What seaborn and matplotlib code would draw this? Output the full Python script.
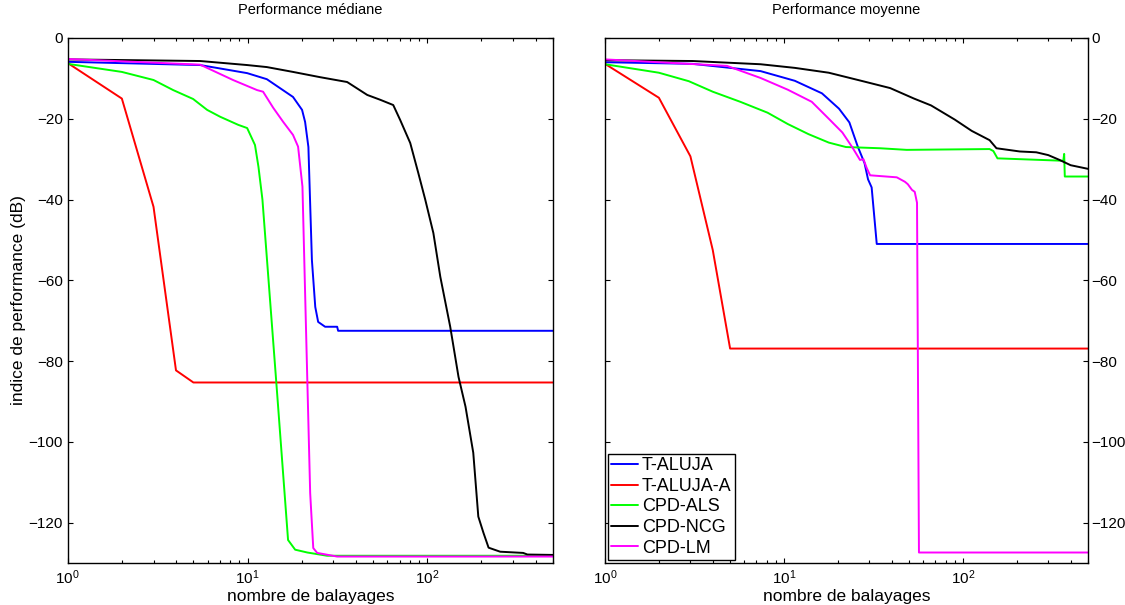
import matplotlib
matplotlib.use("Agg")
import matplotlib.pyplot as plt
from matplotlib.lines import Line2D
from matplotlib.ticker import LogLocator
import seaborn as sns
import pandas as pd

# Methods and colours (MATLAB-like pure colours)
METHODS = ["T-ALUJA", "T-ALUJA-A", "CPD-ALS", "CPD-NCG", "CPD-LM"]
COLORS = ["#0000ff", "#ff0000", "#00ff00", "#000000", "#ff00ff"]

# --- Performance médiane ---
med_taluja_x = [1, 5.45, 9.95, 12.8, 17.9, 20.1, 20.9, 21.8, 22.8, 23.8, 24.7, 27.0, 31.5, 31.9, 500]
med_taluja_y = [-5.9, -6.7, -8.7, -10.2, -14.6, -17.8, -20.8, -27.0, -55.0, -66.6, -70.3, -71.5, -71.5, -72.5, -72.5]

med_talujaa_x = [1, 2, 3, 4, 5, 500]
med_talujaa_y = [-6.2, -15.0, -41.8, -82.3, -85.3, -85.3]

med_als_x = [1, 2.0, 3.0, 3.86, 4.98, 5.96, 7.04, 8.87, 9.95, 11.0, 11.5, 12.1, 14.6, 16.8, 18.4, 21.5, 27.7, 500]
med_als_y = [-6.4, -8.4, -10.4, -12.9, -15.1, -17.8, -19.5, -21.5, -22.3, -26.5, -31.9, -40.0, -87.9, -124.3, -126.7, -127.4, -128.2, -128.2]

med_ncg_x = [1, 5.45, 9.95, 12.8, 17.9, 25.3, 35.8, 46.3, 54.7, 64.6, 70.6, 80.3, 89, 97.3, 108, 118, 134, 149,
             163, 180, 192, 205, 219, 254, 341, 360, 500]
med_ncg_y = [-5.3, -5.7, -6.7, -7.2, -8.4, -9.7, -10.9, -14.1, -15.3, -16.6, -20.3, -26.0, -33.4, -40.0, -48.3,
             -59.1, -71.5, -83.9, -91.3, -102.7, -118.5, -122.5, -126.2, -127.2, -127.5, -127.9, -128.0]

med_lm_x = [1, 5.45, 8.3, 11.3, 12.2, 13.9, 15.8, 17.9, 19.1, 20.2, 20.9, 22.3, 23.2, 24.4, 31.5, 500]
med_lm_y = [-5.2, -6.6, -10.4, -12.9, -13.3, -17.3, -20.8, -24.0, -26.9, -36.8, -63.2, -112.7, -126.3, -127.5, -128.4, -128.4]

# --- Performance moyenne ---
moy_taluja_x = [1, 3.08, 7.4, 11.5, 16.3, 20.3, 23.2, 25.8, 28.2, 29.5, 30.9, 33.0, 500]
moy_taluja_y = [-6.0, -6.4, -8.2, -10.6, -13.7, -17.5, -20.9, -26.8, -31.0, -35.0, -37.0, -51.0, -51.0]

moy_talujaa_x = [1, 2, 3, 4, 5, 500]
moy_talujaa_y = [-6.4, -14.8, -29.3, -52.5, -76.9, -76.9]

moy_als_x = [1, 2.0, 2.94, 4.0, 5.7, 8.1, 10.5, 13.7, 17.8, 22.2, 34.4, 48.5, 141, 148, 156, 364, 368, 371, 500]
moy_als_y = [-6.5, -8.6, -10.7, -13.3, -15.8, -18.5, -21.3, -23.8, -25.9, -27.0, -27.3, -27.7, -27.5, -28.0,
             -29.8, -30.4, -28.7, -34.3, -34.3]

moy_ncg_x = [1, 3.08, 7.4, 11.5, 17.8, 27.6, 39.2, 53.3, 66.4, 90, 112, 141, 154, 208, 257, 300, 347, 400, 500]
moy_ncg_y = [-5.5, -5.7, -6.5, -7.4, -8.6, -10.7, -12.4, -15.0, -16.7, -20.2, -23.0, -25.3, -27.3, -28.1,
             -28.3, -29.0, -30.2, -31.5, -32.4]

moy_lm_x = [1, 4.8, 7.4, 10.5, 14.3, 17.8, 21.2, 24.2, 26.6, 27.8, 29.0, 30.3, 42.7, 47.4, 49.2, 51.9, 53.8,
            55.4, 56.8, 500]
moy_lm_y = [-5.3, -6.9, -9.9, -12.8, -15.8, -20.0, -23.4, -27.2, -30.2, -30.0, -32.2, -34.0, -34.5, -35.6,
            -36.2, -37.6, -38.1, -40.8, -127.4, -127.4]

Y_TICKS = [0, -20, -40, -60, -80, -100, -120]

sns.set_theme(style="white")
plt.rcParams.update(
    {
        "font.family": ["Liberation Sans", "DejaVu Sans"],
        "axes.edgecolor": "black",
        "axes.linewidth": 1.0,
        "xtick.direction": "in",
        "ytick.direction": "in",
        "xtick.top": True,
        "ytick.right": True,
        "xtick.bottom": True,
        "ytick.left": True,
        "xtick.major.size": 3.6,
        "ytick.major.size": 3.6,
        "xtick.minor.size": 2.5,
        "xtick.major.width": 0.8,
        "ytick.major.width": 0.8,
        "xtick.minor.width": 0.8,
        "xtick.color": "black",
        "ytick.color": "black",
        "xtick.labelsize": 11,
        "ytick.labelsize": 11,
        "axes.labelsize": 12.5,
        "axes.titlesize": 10.5,
        "text.color": "black",
        "axes.labelcolor": "black",
    }
)


def to_long(series):
    frames = []
    for name, (x, y) in zip(METHODS, series):
        frames.append(pd.DataFrame({"balayages": x, "perf": y, "methode": name}))
    return pd.concat(frames, ignore_index=True)


def draw_panel(ax, df, title):
    sns.lineplot(
        data=df,
        x="balayages",
        y="perf",
        hue="methode",
        hue_order=METHODS,
        palette=dict(zip(METHODS, COLORS)),
        estimator=None,
        sort=False,
        linewidth=1.4,
        legend=False,
        ax=ax,
    )
    ax.set_xscale("log")
    ax.set_xlim(1, 500)
    ax.set_ylim(-130, 0)
    ax.set_yticks(Y_TICKS)
    ax.xaxis.set_minor_locator(LogLocator(base=10, subs=range(2, 10)))
    ax.set_title(title, pad=17)
    ax.set_xlabel("nombre de balayages", labelpad=1)
    ax.tick_params(axis="x", which="both", top=True, bottom=True, pad=4, color="black")
    ax.tick_params(axis="x", which="minor", length=2.5, width=0.8)
    for s in ax.spines.values():
        s.set_visible(True)
        s.set_color("black")


fig = plt.figure(figsize=(11.25, 6.05), dpi=100)
ax1 = fig.add_axes([0.0602, 0.0694, 0.4314, 0.8678])
ax2 = fig.add_axes([0.5378, 0.0694, 0.4293, 0.8678])

df_med = to_long([
    (med_taluja_x, med_taluja_y),
    (med_talujaa_x, med_talujaa_y),
    (med_als_x, med_als_y),
    (med_ncg_x, med_ncg_y),
    (med_lm_x, med_lm_y),
])
df_moy = to_long([
    (moy_taluja_x, moy_taluja_y),
    (moy_talujaa_x, moy_talujaa_y),
    (moy_als_x, moy_als_y),
    (moy_ncg_x, moy_ncg_y),
    (moy_lm_x, moy_lm_y),
])

draw_panel(ax1, df_med, "Performance médiane")
ax1.set_ylabel("indice de performance (dB)", labelpad=2)
ax1.tick_params(axis="y", left=True, right=True, labelleft=True, labelright=False, pad=3.5)

draw_panel(ax2, df_moy, "Performance moyenne")
ax2.set_ylabel("")
ax2.tick_params(axis="y", left=True, right=True, labelleft=False, labelright=True, pad=2.5)

handles = [Line2D([], [], color=c, linewidth=1.4) for c in COLORS]
leg = ax2.legend(
    handles,
    METHODS,
    loc="lower left",
    fontsize=13,
    frameon=True,
    fancybox=False,
    framealpha=1,
    edgecolor="black",
    borderaxespad=0.15,
    borderpad=0.2,
    labelspacing=0.2,
    handlelength=1.5,
    handletextpad=0.2,
)
leg.get_frame().set_linewidth(1.0)

fig.savefig("out.png", dpi=100)
